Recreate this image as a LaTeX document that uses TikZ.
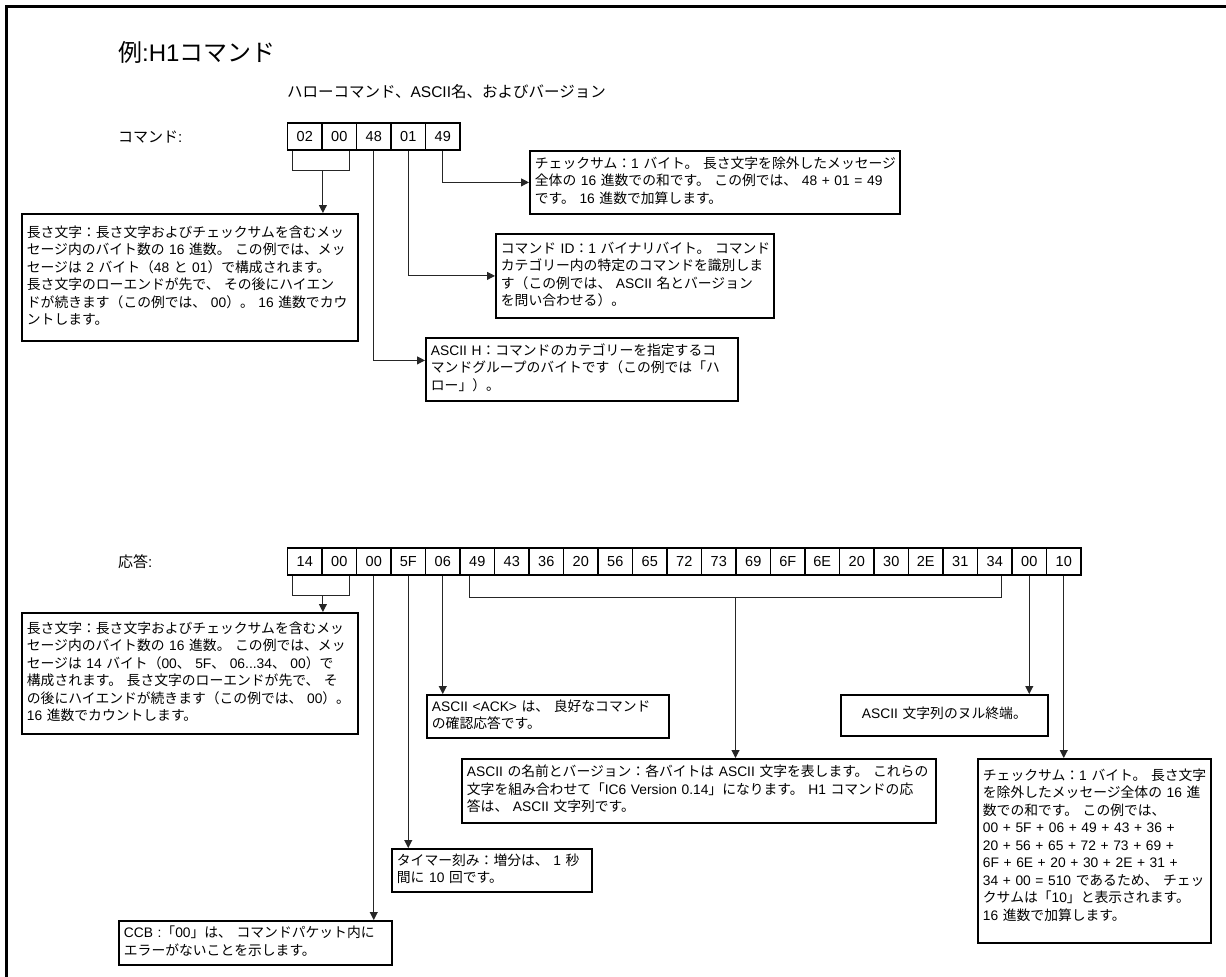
\documentclass[tikz,border=0pt]{standalone}
\usepackage{fontspec}
\setmainfont{Liberation Sans}
\newfontfamily\latinfont{Liberation Sans}
\newfontfamily\jpfont{Noto Sans CJK JP}
\usetikzlibrary{arrows.meta,calc}

% Kana, kanji and full-width forms are set in the Japanese face,
% everything else in Liberation Sans.
\XeTeXinterchartokenstate=1
\newXeTeXintercharclass\jpclass
\newcount\jpcode
\newcommand\jprange[2]{%
  \jpcode=#1\relax
  \loop
    \XeTeXcharclass\jpcode=\jpclass
  \ifnum\jpcode<#2\relax
    \advance\jpcode by 1\relax
  \repeat}
\jprange{"3000}{"30FF}
\jprange{"4E00}{"9FFF}
\jprange{"FF00}{"FFEF}
\XeTeXinterchartoks 0 \jpclass = {\jpfont}
\XeTeXinterchartoks 4095 \jpclass = {\jpfont}
\XeTeXinterchartoks \jpclass 0 = {\latinfont}
\XeTeXinterchartoks 4095 0 = {\latinfont}

% lines of a note, broken only where written
\newcommand\boxlines[1]{\begin{tabular}{@{}l@{}}#1\end{tabular}}

\begin{document}
\begin{tikzpicture}[x=1pt,y=-1pt,
  desc/.style={draw=black, line width=1.8pt, anchor=north west, align=left,
    inner xsep=5pt, inner ysep=4pt, font=\fontsize{13.8}{17.5}\selectfont},
  cell/.style={draw=black, line width=1.8pt, minimum width=34.5pt,
    minimum height=27pt, inner sep=0pt, font=\fontsize{14.5}{16}\selectfont},
  wire/.style={draw=black!85, line width=1pt},
  arr/.style={wire, -{Triangle[length=8pt,width=8pt]}},
  rowlabel/.style={anchor=west, inner sep=0pt, font=\fontsize{15}{18}\selectfont}
]
\useasboundingbox (0,0) rectangle (1226,977);

% frame
\draw[line width=3pt] (6,977) -- (6,6) -- (1226,6);

% headings
\node[anchor=west, inner sep=0pt, font=\fontsize{24}{28}\selectfont] (title) at (118,52) {例:H1コマンド};
\node[anchor=west, inner sep=0pt, font=\fontsize{15.5}{18}\selectfont] (sub) at (287,92) {ハローコマンド、ASCII名、およびバージョン};

% ---------------- command ----------------
\node[rowlabel] (cmdlbl) at (118,137) {コマンド:};
\foreach \b [count=\i from 0] in {02,00,48,01,49}
  \node[cell] (c\i) at ({287.5+34.5*(\i+0.5)},136.5) {\b};

\node[desc, text width=360pt, minimum height=63pt] (cchk) at (529,150)
  {\boxlines{チェックサム：1 バイト。 長さ文字を除外したメッセージ\\
   全体の 16 進数での和です。 この例では、 48 + 01 = 49\\
   です。 16 進数で加算します。}};

\node[desc, text width=326pt, minimum height=127pt] (clen) at (21,213)
  {\boxlines{長さ文字：長さ文字およびチェックサムを含むメッ\\
   セージ内のバイト数の 16 進数。 この例では、メッ\\
   セージは 2 バイト（48 と 01）で構成されます。\\
   長さ文字のローエンドが先で、 その後にハイエン\\
   ドが続きます（この例では、 00）。 16 進数でカウ\\
   ントします。}};

\node[desc, text width=268pt, minimum height=84pt] (cid) at (495,233)
  {\boxlines{コマンド ID：1 バイナリバイト。 コマンド\\
   カテゴリー内の特定のコマンドを識別しま\\
   す（この例では、 ASCII 名とバージョン\\
   を問い合わせる）。}};

\node[desc, text width=302pt, minimum height=63pt] (cgrp) at (425,337)
  {\boxlines{ASCII H：コマンドのカテゴリーを指定するコ\\
   マンドグループのバイトです（この例では「ハ\\
   ロー」）。}};

\draw[wire] ([xshift=-12pt]c0.south) -- ++(0,20) -| ([xshift=10pt]c1.south);
\draw[arr] ($(c0.south east)+(0,20)$) -- (c0.south east |- clen.north);
\draw[arr] (c2.south) |- ([yshift=9pt]cgrp.west);
\draw[arr] (c3.south) |- (cid.west);
\draw[arr] (c4.south) |- (cchk.west);

% ---------------- response ----------------
\node[rowlabel] (rsplbl) at (118,562) {応答:};
\foreach \b [count=\i from 0] in {14,00,00,5F,06,49,43,36,20,56,65,72,73,69,6F,6E,20,30,2E,31,34,00,10}
  \node[cell] (r\i) at ({287.5+34.5*(\i+0.5)},561.5) {\b};

\node[desc, text width=326pt, minimum height=121pt] (rlen) at (21,612)
  {\boxlines{長さ文字：長さ文字およびチェックサムを含むメッ\\
   セージ内のバイト数の 16 進数。 この例では、メッ\\
   セージは 14 バイト（00、 5F、 06...34、 00）で\\
   構成されます。 長さ文字のローエンドが先で、 そ\\
   の後にハイエンドが続きます（この例では、 00）。\\
   16 進数でカウントします。}};

\node[desc, text width=232pt, minimum height=41pt] (rack) at (426,694)
  {\boxlines{ASCII <ACK> は、 良好なコマンド\\
   の確認応答です。}};

\node[desc, align=center, text width=197pt, minimum height=41pt] (rnul) at (840,694)
  {\boxlines{ASCII 文字列のヌル終端。}};

\node[desc, text width=464pt, minimum height=64pt] (rname) at (461,758)
  {\boxlines{ASCII の名前とバージョン：各バイトは ASCII 文字を表します。 これらの\\
   文字を組み合わせて「IC6 Version 0.14」になります。 H1 コマンドの応\\
   答は、 ASCII 文字列です。}};

\node[desc, text width=223pt, minimum height=184pt] (rchk) at (977,758)
  {\boxlines{チェックサム：1 バイト。 長さ文字\\
   を除外したメッセージ全体の 16 進\\
   数での和です。 この例では、\\
   00 + 5F + 06 + 49 + 43 + 36 +\\
   20 + 56 + 65 + 72 + 73 + 69 +\\
   6F + 6E + 20 + 30 + 2E + 31 +\\
   34 + 00 = 510 であるため、 チェッ\\
   クサムは「10」と表示されます。\\
   16 進数で加算します。\rule[-14pt]{0pt}{14pt}}};

\node[desc, text width=190pt, minimum height=42pt] (rtim) at (391,848)
  {\boxlines{タイマー刻み：増分は、 1 秒\\
   間に 10 回です。}};

\node[desc, text width=263pt, minimum height=44pt] (rccb) at (118,920)
  {\boxlines{CCB :「00」は、 コマンドパケット内に\\
   エラーがないことを示します。}};

% length bracket under the first two bytes
\draw[wire] ([xshift=-12pt]r0.south) -- ++(0,20) -| ([xshift=10pt]r1.south);
\draw[arr] ($(r0.south east)+(0,20)$) -- (r0.south east |- rlen.north);
% single bytes
\draw[arr] (r2.south) -- (r2.south |- rccb.north);
\draw[arr] (r3.south) -- (r3.south |- rtim.north);
\draw[arr] (r4.south) -- (r4.south |- rack.north);
% name and version bracket
\coordinate (bl) at ($([xshift=-8pt]r5.south)+(0,22)$);
\coordinate (br) at ($([xshift=7pt]r20.south)+(0,22)$);
\draw[wire] ([xshift=-8pt]r5.south) -- (bl) -- (br) -- ([xshift=7pt]r20.south);
\coordinate (bm) at ($(bl)!0.5!(br)$);
\draw[arr] (bm) -- (bm |- rname.north);
\draw[arr] (r21.south) -- (r21.south |- rnul.north);
\draw[arr] (r22.south) -- (r22.south |- rchk.north);
\end{tikzpicture}
\end{document}
